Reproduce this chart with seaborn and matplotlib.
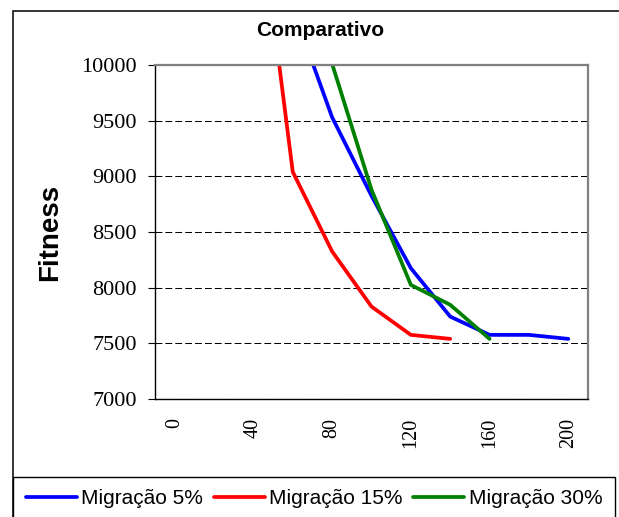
import numpy as np
import pandas as pd
import seaborn as sns
import matplotlib.pyplot as plt
from matplotlib.patches import Rectangle

# category axis (generations) and the three series
geracoes = [0, 20, 40, 60, 80, 100, 120, 140, 160, 180, 200]
migracao_5 = [np.nan, np.nan, np.nan, 10510, 9530, 8825, 8175, 7740, 7576, 7576, 7540]
migracao_15 = [np.nan, np.nan, 11830, 9040, 8325, 7830, 7576, 7540, np.nan, np.nan, np.nan]
migracao_30 = [np.nan, np.nan, np.nan, 11600, 10010, 8880, 8025, 7846, 7540, np.nan, np.nan]
series = ['Migração 5%', 'Migração 15%', 'Migração 30%']
cores = ['#0000FF', '#FF0000', '#008000']
x_labels = [0, 40, 80, 120, 160, 200]

df = pd.DataFrame({
    'Geração': geracoes * 3,
    'Fitness': migracao_5 + migracao_15 + migracao_30,
    'Série': [s for s in series for _ in geracoes],
}).dropna()

sns.set_style('white')
plt.rcParams['font.family'] = ['Liberation Sans', 'DejaVu Sans']
plt.rcParams['text.color'] = 'black'
plt.rcParams['axes.labelcolor'] = 'black'
plt.rcParams['xtick.color'] = 'black'
plt.rcParams['ytick.color'] = 'black'

fig = plt.figure(figsize=(6.19, 5.17), dpi=100)
ax = fig.add_axes([155 / 619, 1 - 399 / 517, 433 / 619, 334 / 517])

sns.lineplot(data=df, x='Geração', y='Fitness', hue='Série', hue_order=series,
             palette=cores, linewidth=2.7, legend=False, ax=ax)

ax.set_xlim(-10, 210)
ax.set_ylim(7000, 10000)
ax.set_yticks(np.arange(7000, 10001, 500))
ax.set_xticks(x_labels)
ax.set_xticks(np.arange(-10, 211, 20), minor=True)
ax.set_xticklabels([str(v) for v in x_labels], rotation=90, va='top', ha='center',
                   family='Liberation Serif', fontsize=14.5)
ax.set_yticklabels([str(v) for v in range(7000, 10001, 500)],
                   family='Liberation Serif', fontsize=16)
ax.tick_params(axis='x', which='major', length=0, pad=13.5)
ax.tick_params(axis='x', which='minor', direction='out', length=4.5, width=0.8, color='black')
ax.tick_params(axis='y', direction='out', length=5, width=0.8, color='black', pad=8, left=True)

ax.yaxis.grid(True, color='black', linewidth=0.75, linestyle=(0, (6.5, 3)))
ax.set_axisbelow(True)

for s in ['left', 'bottom']:
    ax.spines[s].set_color('black')
    ax.spines[s].set_linewidth(1.0)
for s in ['top', 'right']:
    ax.spines[s].set_color('#808080')
    ax.spines[s].set_linewidth(1.6)

ax.set_xlabel('')
ax.set_ylabel('Fitness', fontsize=20, fontweight='bold')
ax.yaxis.set_label_coords(-0.213, 0.5)

fig.text(320 / 619, 1 - 30 / 517, 'Comparativo', ha='center', va='center',
         fontsize=15, fontweight='bold')

# outer chart frame (runs off the right and bottom edges)
fig.patches.append(Rectangle((13 / 619, -0.1), 1.0, 1.1 - 11 / 517, transform=fig.transFigure,
                             fill=False, edgecolor='black', linewidth=1.1))

leg = fig.legend(handles=ax.lines[:3], labels=series, ncol=3, loc='upper left',
                 bbox_to_anchor=(13 / 619, 0, 602 / 619, 1 - 477 / 517), mode='expand',
                 borderaxespad=0, fontsize=15, handlelength=2.45, handletextpad=0.22,
                 borderpad=0.6, fancybox=False, framealpha=1, edgecolor='black')
leg.get_frame().set_linewidth(1.0)

fig.savefig('out.png', dpi=100)
